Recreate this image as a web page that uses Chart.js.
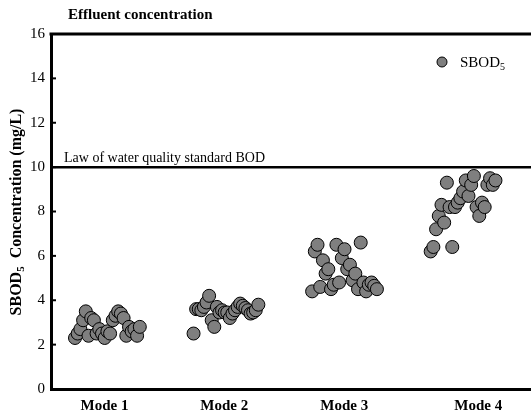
<!DOCTYPE html>
<html>
<head>
<meta charset="utf-8">
<script src="https://cdn.jsdelivr.net/npm/chart.js@4/dist/chart.umd.min.js"></script>
<style>
  html,body{margin:0;padding:0;background:#fff;}
  #wrap{width:531px;height:417px;position:relative;}
</style>
</head>
<body>
<div id="wrap"><canvas id="c" width="531" height="417"></canvas></div>
<script>
// ---- data ----
const categories = ["Mode 1", "Mode 2", "Mode 3", "Mode 4"];
const mode1 = [2.3,2.5,2.7,3.1,3.5,2.4,3.2,3.1,2.5,2.7,2.5,2.3,2.6,2.5,3.1,3.3,3.5,3.4,3.2,2.4,2.8,2.6,2.7,2.4,2.8];
const mode2 = [2.5,3.6,3.6,3.55,3.7,3.9,4.2,3.1,2.8,3.7,3.45,3.55,3.45,3.45,3.2,3.4,3.55,3.7,3.85,3.75,3.65,3.55,3.4,3.45,3.55,3.8];
const mode3 = [4.4,6.2,6.5,4.6,5.8,5.2,5.4,4.5,4.7,6.5,4.8,5.9,6.3,5.4,5.6,4.9,5.2,4.5,6.6,4.8,4.4,4.7,4.8,4.65,4.5];
const mode4 = [6.2,6.4,7.2,7.8,8.3,7.5,9.3,8.2,6.4,8.2,8.4,8.6,8.9,9.4,8.7,9.2,9.6,8.2,7.8,8.4,8.2,9.2,9.5,9.2,9.4];
const yTicks = [0,2,4,6,8,10,12,14,16];
const standardBOD = 10;
const standardLabel = "Law of water quality standard BOD";
const titleText = "Effluent concentration";
const seriesName = "SBOD";
const seriesSub = "5";
const yTitleMain = "SBOD";
const yTitleSub = "5";
const yTitleRest = "  Concentration (mg/L)";

// ---- build ----
const modeLabelPos = [0.446, 1.444, 2.444, 3.56];
const groups = [mode1, mode2, mode3, mode4];
const points = [];
groups.forEach((arr, k) => {
  const start = k + 0.2 - 0.012 * k, span = 0.54;
  arr.forEach((v, i) => points.push({x: start + span * i / (arr.length - 1), y: v}));
});

const SERIF = '"Liberation Serif", "Times New Roman", serif';

const decor = {
  id: 'decor',
  afterDraw(chart) {
    const ctx = chart.ctx, ca = chart.chartArea;
    const ys = chart.scales.y;
    ctx.save();
    // top border
    ctx.strokeStyle = '#000';
    ctx.lineWidth = 3;
    ctx.beginPath();
    ctx.moveTo(ca.left - 1.5, ca.top);
    ctx.lineTo(ca.right, ca.top);
    ctx.stroke();
    // inward ticks
    ctx.lineWidth = 2;
    yTicks.forEach(t => {
      const p = ys.getPixelForValue(t);
      ctx.beginPath();
      ctx.moveTo(ca.left, p);
      ctx.lineTo(ca.left + 5, p);
      ctx.stroke();
    });
    // standard label
    ctx.fillStyle = '#000';
    ctx.font = '14px ' + SERIF;
    ctx.textAlign = 'left';
    ctx.textBaseline = 'alphabetic';
    ctx.fillText(standardLabel, ca.left + 13, ys.getPixelForValue(standardBOD) - 5);
    // title
    ctx.font = 'bold 15px ' + SERIF;
    ctx.textBaseline = 'middle';
    ctx.fillText(titleText, 68, 15);
    // legend
    ctx.beginPath();
    ctx.arc(442, 62, 5, 0, Math.PI * 2);
    ctx.fillStyle = '#7f7f7f';
    ctx.fill();
    ctx.lineWidth = 1;
    ctx.strokeStyle = '#000';
    ctx.stroke();
    ctx.fillStyle = '#000';
    ctx.font = '15px ' + SERIF;
    ctx.textBaseline = 'alphabetic';
    ctx.fillText(seriesName, 460, 67);
    const w1 = ctx.measureText(seriesName).width;
    ctx.font = '10px ' + SERIF;
    ctx.fillText(seriesSub, 460 + w1, 70);
    // y title (rotated)
    ctx.translate(21, 212);
    ctx.rotate(-Math.PI / 2);
    ctx.font = 'bold 16px ' + SERIF;
    const a = ctx.measureText(yTitleMain).width;
    const c = ctx.measureText(yTitleRest).width;
    ctx.font = 'bold 11px ' + SERIF;
    const b = ctx.measureText(yTitleSub).width;
    const total = a + b + c;
    let x0 = -total / 2;
    ctx.textBaseline = 'alphabetic';
    ctx.font = 'bold 16px ' + SERIF;
    ctx.fillText(yTitleMain, x0, 0);
    ctx.font = 'bold 11px ' + SERIF;
    ctx.fillText(yTitleSub, x0 + a, 3);
    ctx.font = 'bold 16px ' + SERIF;
    ctx.fillText(yTitleRest, x0 + a + b, 0);
    ctx.restore();
  }
};

new Chart(document.getElementById('c'), {
  type: 'scatter',
  data: {
    datasets: [
      {
        type: 'line',
        data: [{x: 0, y: standardBOD}, {x: 4, y: standardBOD}],
        borderColor: '#000',
        borderWidth: 2.5,
        pointRadius: 0,
        fill: false,
        order: 2
      },
      {
        label: seriesName + seriesSub,
        data: points,
        backgroundColor: '#7f7f7f',
        borderColor: '#000',
        borderWidth: 1,
        pointRadius: 6.5,
        pointHoverRadius: 6.5,
        order: 1
      }
    ]
  },
  options: {
    responsive: false,
    animation: false,
    events: [],
    layout: {autoPadding: false, padding: {left: 0, right: 0, top: 34, bottom: 0}},
    plugins: {legend: {display: false}, tooltip: {enabled: false}, title: {display: false}},
    scales: {
      x: {
        type: 'linear',
        min: 0, max: 4,
        afterBuildTicks(scale) { scale.ticks = modeLabelPos.map(v => ({value: v})); },
        afterFit(scale) { scale.height = 28; },
        grid: {display: false, drawTicks: false},
        border: {display: true, color: '#000', width: 3},
        ticks: {
          autoSkip: false, maxRotation: 0, padding: 8,
          color: '#000',
          font: {family: SERIF, size: 15, weight: 'bold'},
          callback: (v, i) => categories[i]
        }
      },
      y: {
        min: 0, max: 16,
        afterBuildTicks(scale) { scale.ticks = yTicks.map(v => ({value: v})); },
        afterFit(scale) { scale.width = 51; },
        grid: {display: false, drawTicks: false},
        border: {display: true, color: '#000', width: 3},
        ticks: {
          padding: 6,
          color: '#000',
          font: {family: SERIF, size: 15}
        }
      }
    }
  },
  plugins: [decor]
});
</script>
</body>
</html>
